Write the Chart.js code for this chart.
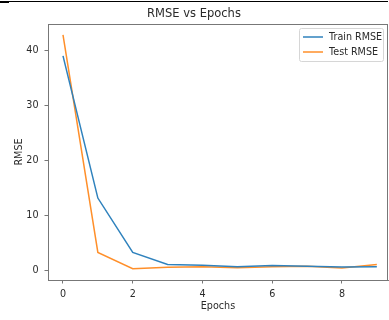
<!DOCTYPE html>
<html lang="en">
<head>
  <meta charset="UTF-8">
  <title>RMSE vs Epochs</title>
  <script src="https://cdn.jsdelivr.net/npm/chart.js"></script>
  <style>
    body {
      margin: 0;
      background: #fff;
    }
    #wrap {
      width: 389px;
      height: 320px;
    }
  </style>
</head>
<body>
  <div id="wrap"><canvas id="rmseChart" width="389" height="320"></canvas></div>

  <script>
    const epochs = [0, 1, 2, 3, 4, 5, 6, 7, 8, 9];
    const trainRmse = [39.0, 13.1, 3.2, 1.0, 0.85, 0.6, 0.8, 0.7, 0.55, 0.6];
    const testRmse = [42.8, 3.2, 0.25, 0.5, 0.6, 0.42, 0.6, 0.7, 0.36, 1.0];
    const xTicks = [0, 2, 4, 6, 8];
    const yTicks = [0, 10, 20, 30, 40];

    const tickFont = { family: "DejaVu Sans", size: 9.6 };
    const textColor = "#2a2a2a";
    const spineColor = "#777";

    function points(values) {
      return epochs.map((e, i) => ({ x: e, y: values[i] }));
    }

    // frame round the plot area + scanned border line at the top
    const framePlugin = {
      id: "frame",
      beforeDraw(chart) {
        const c = chart.ctx;
        c.save();
        c.fillStyle = "#fff";
        c.fillRect(0, 0, chart.width, chart.height);
        c.fillStyle = "#000";
        c.fillRect(0, 1, 388, 1);
        c.fillRect(0, 1, 9, 2);
        c.restore();
      },
      afterDraw(chart) {
        const a = chart.chartArea;
        const c = chart.ctx;
        c.save();
        c.strokeStyle = spineColor;
        c.lineWidth = 1;
        c.strokeRect(a.left + 0.5, a.top + 0.5, a.right - a.left - 1, a.bottom - a.top);
        c.restore();
      }
    };

    // matplotlib style legend in the upper right corner
    const legendPlugin = {
      id: "mplLegend",
      afterDraw(chart) {
        const c = chart.ctx;
        const x = 299, y = 28, w = 84, h = 33;
        c.save();
        c.beginPath();
        c.roundRect(x + 0.5, y + 0.5, w, h, 2);
        c.fillStyle = "rgba(255,255,255,0.85)";
        c.fill();
        c.strokeStyle = "#d6d6d6";
        c.lineWidth = 1;
        c.stroke();
        c.font = "9.6px 'DejaVu Sans'";
        c.textBaseline = "middle";
        c.fillStyle = textColor;
        chart.data.datasets.forEach((ds, i) => {
          const ly = y + 9 + i * 15;
          c.beginPath();
          c.moveTo(x + 4, ly);
          c.lineTo(x + 24, ly);
          c.strokeStyle = ds.borderColor;
          c.lineWidth = 1.5;
          c.stroke();
          c.fillText(ds.label, x + 30, ly);
        });
        c.restore();
      }
    };

    const ctx = document.getElementById("rmseChart").getContext("2d");
    new Chart(ctx, {
      type: "line",
      data: {
        datasets: [
          {
            label: "Train RMSE",
            data: points(trainRmse),
            borderColor: "#2f82bd",
            borderWidth: 1.5,
            pointRadius: 0,
            tension: 0
          },
          {
            label: "Test RMSE",
            data: points(testRmse),
            borderColor: "#ff8f2a",
            borderWidth: 1.5,
            pointRadius: 0,
            tension: 0
          }
        ]
      },
      options: {
        responsive: false,
        animation: false,
        layout: { padding: { left: 0, right: 1, top: 0, bottom: 0 } },
        plugins: {
          legend: { display: false },
          tooltip: { enabled: false },
          title: {
            display: true,
            text: "RMSE vs Epochs",
            color: textColor,
            font: { family: "DejaVu Sans", size: 11.5, weight: "normal" },
            padding: { top: 7, bottom: 3.2 }
          }
        },
        scales: {
          x: {
            type: "linear",
            min: -0.43,
            max: 9.32,
            afterBuildTicks: (scale) => {
              scale.ticks = xTicks.map(v => ({ value: v }));
            },
            afterFit: (scale) => { scale.height = 40; },
            grid: { drawOnChartArea: false, tickLength: 3.5, color: spineColor },
            border: { color: spineColor },
            ticks: { font: tickFont, color: textColor, padding: 5, maxRotation: 0 },
            title: {
              display: true,
              text: "Epochs",
              color: textColor,
              font: tickFont,
              padding: { top: 0, bottom: 7.5 }
            }
          },
          y: {
            min: -1.82,
            max: 44.8,
            afterBuildTicks: (scale) => {
              scale.ticks = yTicks.map(v => ({ value: v }));
            },
            afterFit: (scale) => { scale.width = 48; },
            grid: { drawOnChartArea: false, tickLength: 3.5, color: spineColor },
            border: { color: spineColor },
            ticks: { font: tickFont, color: textColor, padding: 6 },
            title: {
              display: true,
              text: "RMSE",
              color: textColor,
              font: tickFont,
              padding: { top: 14, bottom: 0 }
            }
          }
        }
      },
      plugins: [framePlugin, legendPlugin]
    });
  </script>
</body>
</html>
